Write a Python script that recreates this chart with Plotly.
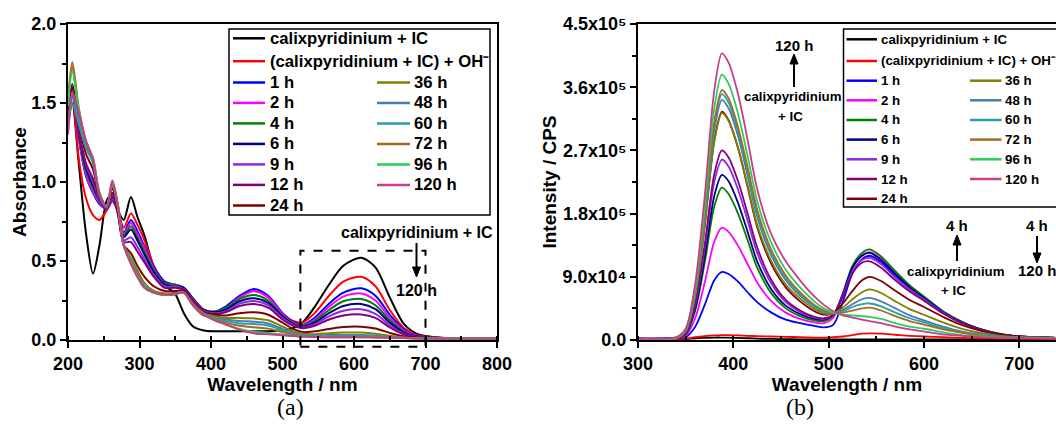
import plotly.graph_objects as go

# ---------------- DATA ----------------
series_labels = ["calixpyridinium + IC", "(calixpyridinium + IC) + OH\u207b",
                 "1 h", "2 h", "4 h", "6 h", "9 h", "12 h", "24 h",
                 "36 h", "48 h", "60 h", "72 h", "96 h", "120 h"]
series_colors = ["#000000", "#ff0000", "#0000ff", "#ff00ff", "#008000", "#000080",
                 "#8a2be2", "#800080", "#800000", "#808000", "#4a7bb5", "#2a9fa8",
                 "#a66a23", "#2ecc5a", "#c83d8a"]

# (a) UV-vis absorbance
wl_a = [200, 206, 215, 225, 235, 244, 254, 262, 270, 278, 288, 297, 307, 320, 335, 350, 362, 375, 390, 405,
        420, 440, 460, 480, 500, 515, 528, 545, 565, 585, 610, 630, 650, 670, 690, 720, 760, 800]
abs_black = [1.35, 1.50, 1.12, 0.68, 0.42, 0.60, 0.88, 0.93, 0.82, 0.76, 0.905, 0.78, 0.66, 0.46, 0.35, 0.29, 0.17, 0.085, 0.06, 0.055,
             0.055, 0.055, 0.055, 0.056, 0.062, 0.075, 0.11, 0.21, 0.35, 0.47, 0.52, 0.46, 0.27, 0.10, 0.035, 0.015, 0.012, 0.01]
abs_oh = [1.38, 1.55, 1.15, 0.90, 0.79, 0.76, 0.82, 0.88, 0.81, 0.71, 0.80, 0.73, 0.63, 0.47, 0.37, 0.34, 0.31, 0.22, 0.155, 0.16,
          0.20, 0.27, 0.31, 0.27, 0.17, 0.12, 0.11, 0.17, 0.28, 0.37, 0.40, 0.34, 0.19, 0.075, 0.028, 0.015, 0.012, 0.01]
abs_1h = [1.42, 1.60, 1.28, 1.04, 0.93, 0.86, 0.83, 0.88, 0.82, 0.68, 0.76, 0.69, 0.59, 0.46, 0.37, 0.35, 0.33, 0.26, 0.19, 0.18,
          0.21, 0.28, 0.323, 0.28, 0.17, 0.115, 0.095, 0.14, 0.23, 0.30, 0.327, 0.28, 0.16, 0.065, 0.025, 0.014, 0.011, 0.01]
abs_2h = [1.40, 1.58, 1.28, 1.05, 0.94, 0.87, 0.83, 0.89, 0.82, 0.67, 0.74, 0.67, 0.58, 0.45, 0.36, 0.35, 0.33, 0.26, 0.19, 0.18,
          0.20, 0.27, 0.31, 0.27, 0.165, 0.11, 0.092, 0.13, 0.21, 0.275, 0.295, 0.25, 0.14, 0.06, 0.024, 0.014, 0.011, 0.01]
abs_4h = [1.42, 1.60, 1.30, 1.07, 0.96, 0.88, 0.83, 0.90, 0.82, 0.66, 0.72, 0.65, 0.56, 0.44, 0.36, 0.35, 0.33, 0.26, 0.19, 0.18,
          0.20, 0.26, 0.285, 0.25, 0.155, 0.105, 0.09, 0.12, 0.19, 0.245, 0.26, 0.22, 0.125, 0.052, 0.022, 0.013, 0.011, 0.01]
abs_6h = [1.45, 1.60, 1.31, 1.09, 0.98, 0.89, 0.83, 0.91, 0.81, 0.65, 0.70, 0.63, 0.54, 0.43, 0.35, 0.34, 0.33, 0.26, 0.19, 0.175,
          0.19, 0.245, 0.264, 0.235, 0.15, 0.10, 0.085, 0.11, 0.17, 0.215, 0.228, 0.195, 0.11, 0.047, 0.02, 0.012, 0.01, 0.01]
abs_9h = [1.40, 1.57, 1.32, 1.11, 1.00, 0.89, 0.83, 0.92, 0.80, 0.63, 0.65, 0.59, 0.51, 0.41, 0.34, 0.34, 0.32, 0.255, 0.185, 0.17,
          0.18, 0.23, 0.247, 0.22, 0.14, 0.095, 0.08, 0.10, 0.15, 0.185, 0.194, 0.165, 0.095, 0.04, 0.018, 0.012, 0.01, 0.01]
abs_12h = [1.38, 1.55, 1.32, 1.12, 1.02, 0.90, 0.83, 0.93, 0.79, 0.62, 0.62, 0.56, 0.49, 0.40, 0.33, 0.33, 0.32, 0.25, 0.18, 0.165,
           0.175, 0.215, 0.228, 0.205, 0.13, 0.09, 0.075, 0.09, 0.13, 0.155, 0.162, 0.14, 0.08, 0.035, 0.016, 0.011, 0.01, 0.01]
abs_24h = [1.42, 1.62, 1.38, 1.18, 1.08, 0.91, 0.84, 0.96, 0.81, 0.60, 0.55, 0.47, 0.40, 0.34, 0.31, 0.31, 0.31, 0.24, 0.175, 0.16,
           0.155, 0.17, 0.175, 0.16, 0.11, 0.07, 0.05, 0.055, 0.07, 0.082, 0.084, 0.073, 0.045, 0.022, 0.013, 0.01, 0.01, 0.01]
abs_36h = [1.50, 1.73, 1.45, 1.24, 1.13, 0.92, 0.84, 0.98, 0.83, 0.60, 0.52, 0.44, 0.36, 0.31, 0.295, 0.295, 0.30, 0.23, 0.17, 0.15,
           0.14, 0.14, 0.137, 0.125, 0.085, 0.055, 0.04, 0.037, 0.043, 0.047, 0.047, 0.04, 0.027, 0.016, 0.011, 0.01, 0.01, 0.01]
abs_48h = [1.35, 1.55, 1.38, 1.22, 1.12, 0.92, 0.84, 1.00, 0.84, 0.60, 0.50, 0.42, 0.34, 0.30, 0.285, 0.29, 0.30, 0.225, 0.165, 0.14,
           0.13, 0.12, 0.116, 0.105, 0.07, 0.045, 0.033, 0.03, 0.031, 0.032, 0.031, 0.027, 0.02, 0.014, 0.011, 0.01, 0.01, 0.01]
abs_60h = [1.32, 1.50, 1.37, 1.22, 1.12, 0.92, 0.84, 1.00, 0.84, 0.60, 0.50, 0.41, 0.34, 0.30, 0.285, 0.29, 0.30, 0.22, 0.16, 0.135,
           0.12, 0.105, 0.101, 0.092, 0.062, 0.04, 0.03, 0.026, 0.026, 0.026, 0.025, 0.022, 0.017, 0.013, 0.011, 0.01, 0.01, 0.01]
abs_72h = [1.52, 1.76, 1.47, 1.26, 1.15, 0.93, 0.84, 0.99, 0.84, 0.60, 0.49, 0.41, 0.33, 0.30, 0.285, 0.29, 0.30, 0.22, 0.16, 0.13,
           0.11, 0.09, 0.08, 0.072, 0.05, 0.034, 0.026, 0.022, 0.021, 0.021, 0.02, 0.018, 0.015, 0.012, 0.01, 0.01, 0.01, 0.01]
abs_96h = [1.48, 1.70, 1.46, 1.26, 1.15, 0.93, 0.84, 1.00, 0.85, 0.60, 0.49, 0.40, 0.33, 0.30, 0.29, 0.295, 0.30, 0.22, 0.16, 0.125,
           0.10, 0.07, 0.053, 0.045, 0.035, 0.027, 0.022, 0.019, 0.018, 0.018, 0.018, 0.016, 0.014, 0.012, 0.01, 0.01, 0.01, 0.01]
abs_120h = [1.30, 1.57, 1.44, 1.26, 1.14, 0.93, 0.84, 1.01, 0.85, 0.60, 0.48, 0.40, 0.33, 0.30, 0.29, 0.295, 0.30, 0.22, 0.16, 0.125,
            0.10, 0.065, 0.042, 0.036, 0.03, 0.025, 0.022, 0.019, 0.018, 0.017, 0.017, 0.016, 0.014, 0.012, 0.01, 0.01, 0.01, 0.01]

# (b) fluorescence intensity, in thousands of CPS
wl_b = [300, 340, 350, 360, 370, 380, 388, 395, 405, 415, 425, 440, 455, 470, 485, 495, 505, 515, 525, 535,
        543, 555, 570, 585, 600, 620, 640, 660, 680, 700, 740]
fl_black = [1, 1, 1.5, 2.5, 3, 3.5, 3.5, 3.3, 3, 2.5, 2, 1.5, 1.2, 1, 1, 1, 1, 1, 1, 1,
            1, 1, 1, 1, 1, 1, 1, 1, 1, 1, 1]
fl_oh = [1, 1, 2, 4, 5.5, 6.5, 7, 7, 6.5, 6, 5.5, 5, 4.5, 4, 3.5, 3.5, 4, 5, 7, 9,
         9.5, 9, 7.5, 6, 5, 4, 3, 2.5, 2, 2, 1.5]
fl_1h = [2, 3, 4, 19, 50, 85, 97, 94, 83, 68, 54, 39, 29, 24, 20, 18, 22, 55, 95, 115,
         120, 111, 91, 73, 58, 38, 24, 14, 8, 5, 3]
fl_2h = [2, 3, 6, 31, 82, 140, 160, 154, 134, 108, 82, 55, 39, 30, 25, 24, 32, 65, 103, 121,
         125, 116, 95, 76, 60, 40, 25, 15, 8, 5, 3]
fl_4h = [2, 3, 8, 42, 110, 190, 217, 208, 180, 142, 103, 66, 45, 34, 28, 27, 35, 67, 106, 124,
         129, 119, 98, 78, 62, 41, 26, 15, 9, 5, 3]
fl_6h = [2, 3, 9, 45, 118, 205, 235, 226, 195, 154, 112, 72, 49, 37, 30, 29, 36, 66, 103, 120,
         124, 114, 94, 75, 60, 40, 25, 15, 8, 5, 3]
fl_9h = [2, 3, 10, 50, 130, 225, 257, 247, 214, 170, 124, 80, 54, 40, 32, 30, 36, 64, 98, 114,
         117, 108, 89, 72, 58, 39, 24, 14, 8, 5, 3]
fl_12h = [2, 3, 10, 52, 136, 236, 270, 260, 226, 180, 132, 85, 57, 42, 33, 31, 36, 62, 95, 110,
          112, 103, 85, 69, 56, 38, 24, 14, 8, 5, 3]
fl_24h = [2, 3, 12, 62, 163, 284, 325, 313, 273, 218, 161, 108, 75, 55, 41, 36, 38, 52, 70, 85,
          90, 84, 70, 57, 47, 33, 21, 13, 8, 5, 3]
fl_36h = [2, 3, 12, 62, 162, 282, 323, 312, 274, 220, 164, 112, 79, 59, 44, 38, 38, 46, 58, 68,
          72, 67, 55, 44, 36, 25, 16, 10, 6, 4, 3]
fl_48h = [2, 3, 13, 66, 172, 298, 342, 330, 290, 234, 175, 120, 85, 63, 47, 40, 38, 43, 51, 58,
          60, 55, 45, 35, 28, 19, 12, 8, 5, 4, 3]
fl_60h = [2, 3, 14, 68, 176, 305, 350, 338, 297, 240, 180, 123, 88, 65, 48, 41, 38, 41, 47, 51,
          52, 48, 39, 31, 25, 17, 11, 7, 4.5, 3.5, 3]
fl_72h = [2, 3, 14, 70, 180, 310, 356, 344, 303, 246, 186, 128, 92, 68, 50, 42, 38, 39, 42, 45,
          46, 42, 34, 27, 22, 15, 10, 6, 4, 3, 2.5]
fl_96h = [2, 3, 15, 74, 190, 330, 378, 365, 322, 262, 198, 138, 100, 75, 55, 45, 39, 36, 35, 34,
          33, 30, 24, 19, 16, 11, 7, 5, 3.5, 3, 2.5]
fl_120h = [2, 4, 16, 80, 205, 355, 408, 395, 350, 285, 215, 150, 112, 85, 62, 50, 41, 35, 32, 29,
           27, 24, 19, 15, 12, 8, 6, 4, 3, 2.5, 2]

abs_all = [abs_black, abs_oh, abs_1h, abs_2h, abs_4h, abs_6h, abs_9h, abs_12h, abs_24h,
           abs_36h, abs_48h, abs_60h, abs_72h, abs_96h, abs_120h]
fl_all = [fl_black, fl_oh, fl_1h, fl_2h, fl_4h, fl_6h, fl_9h, fl_12h, fl_24h,
          fl_36h, fl_48h, fl_60h, fl_72h, fl_96h, fl_120h]

b_ytick_vals = [0, 90000, 180000, 270000, 360000, 450000]
b_ytick_text = ["0.0", "9.0x10\u2074", "1.8x10\u2075", "2.7x10\u2075", "3.6x10\u2075", "4.5x10\u2075"]

# ---------------- FIGURE ----------------
W, H = 1056, 443
SANS = "Liberation Sans, Arial, sans-serif"
SERIF = "Liberation Serif, Times New Roman, serif"


def P(x):
    return x / W


def Q(y):
    return 1 - y / H


fig = go.Figure()
for lab, col, ys in zip(series_labels, series_colors, abs_all):
    fig.add_trace(go.Scatter(x=wl_a, y=ys, mode="lines", name=lab, showlegend=False,
                             line=dict(color=col, width=2, shape="spline", smoothing=0.8),
                             xaxis="x", yaxis="y"))
for lab, col, ys in zip(series_labels, series_colors, fl_all):
    fig.add_trace(go.Scatter(x=wl_b, y=[v * 1000 for v in ys], mode="lines", name=lab, showlegend=False,
                             line=dict(color=col, width=1.8, shape="spline", smoothing=0.8),
                             xaxis="x2", yaxis="y2"))

tickfont = dict(family=SANS, size=18, color="black", weight="bold")
titlefont = dict(family=SANS, size=19, color="black", weight="bold")
ydom = [Q(340), Q(24)]
common = dict(showline=True, linewidth=2, linecolor="black", showgrid=False, zeroline=False,
              tickfont=tickfont, tickwidth=2, tickcolor="black", ticklen=6)

fig.update_layout(
    width=W, height=H, margin=dict(l=0, r=0, t=0, b=0, autoexpand=False),
    paper_bgcolor="white", plot_bgcolor="white", showlegend=False,
    xaxis=dict(domain=[P(68), P(497)], range=[200, 800], anchor="y", mirror=True,
               tickmode="linear", tick0=200, dtick=100, ticks="outside",
               minor=dict(tickmode="linear", tick0=200, dtick=50, ticks="inside", ticklen=4,
                          tickwidth=2, tickcolor="black"),
               title=dict(text="Wavelength / nm", font=titlefont, standoff=0), **common),
    yaxis=dict(domain=ydom, range=[0, 2], anchor="x", mirror=True,
               tickmode="linear", tick0=0, dtick=0.5, tickformat=".1f", ticks="outside",
               minor=dict(tickmode="linear", tick0=0, dtick=0.25, ticks="outside", ticklen=4,
                          tickwidth=2, tickcolor="black"),
               title=dict(text="Absorbance", font=titlefont, standoff=0), **common),
    xaxis2=dict(domain=[P(638), 1.0], range=[300, 738.5], anchor="y2", mirror=True,
                tickmode="linear", tick0=300, dtick=100, ticks="outside",
                minor=dict(tickmode="linear", tick0=300, dtick=50, ticks="inside", ticklen=4,
                           tickwidth=2, tickcolor="black"),
                title=dict(text="Wavelength / nm", font=titlefont, standoff=0), **common),
    yaxis2=dict(domain=ydom, range=[0, 450000], anchor="x2", mirror=False,
                tickmode="array", tickvals=b_ytick_vals, ticktext=b_ytick_text, ticks="outside",
                minor=dict(tickmode="linear", tick0=0, dtick=45000, ticks="outside", ticklen=4,
                           tickwidth=2, tickcolor="black"),
                title=dict(text="Intensity / CPS", font=titlefont, standoff=1), **common),
)

shapes = []
annos = []


def txt(x, y, s, size, xanchor="center", family=SANS, bold=True):
    f = dict(family=family, size=size, color="black")
    if bold:
        f["weight"] = "bold"
    annos.append(dict(x=P(x), y=Q(y), xref="paper", yref="paper", text=s, showarrow=False,
                      xanchor=xanchor, yanchor="middle", font=f))


def arrow(x, y_tail, y_tip, head_len=10, half_w=4):
    d = 1 if y_tip > y_tail else -1
    base = y_tip - d * head_len
    shapes.append(dict(type="line", xref="paper", yref="paper", x0=P(x), x1=P(x),
                       y0=Q(y_tail), y1=Q(base), line=dict(color="black", width=2)))
    path = "M %f,%f L %f,%f L %f,%f Z" % (P(x), Q(y_tip), P(x - half_w), Q(base), P(x + half_w), Q(base))
    shapes.append(dict(type="path", xref="paper", yref="paper", path=path,
                       fillcolor="black", line=dict(color="black", width=1)))


def legend(box, rows, left_idx, right_idx, right_row0, lx, rx, size):
    x0, y0, x1, y1 = box
    shapes.append(dict(type="rect", xref="paper", yref="paper", x0=P(x0), x1=P(x1), y0=Q(y1), y1=Q(y0),
                       line=dict(color="black", width=1.5)))
    for r, i in enumerate(left_idx):
        shapes.append(dict(type="line", xref="paper", yref="paper", x0=P(lx[0]), x1=P(lx[1]),
                           y0=Q(rows[r]), y1=Q(rows[r]), line=dict(color=series_colors[i], width=2.5)))
        txt(lx[2], rows[r], series_labels[i], size, xanchor="left")
    for r, i in enumerate(right_idx):
        yy = rows[right_row0 + r]
        shapes.append(dict(type="line", xref="paper", yref="paper", x0=P(rx[0]), x1=P(rx[1]),
                           y0=Q(yy), y1=Q(yy), line=dict(color=series_colors[i], width=2.5)))
        txt(rx[2], yy, series_labels[i], size, xanchor="left")


# legend (a)
legend((229, 29, 490, 215), [38.3, 61.2, 82.5, 102.9, 123.4, 143.9, 164.4, 184.9, 205.5],
       list(range(9)), list(range(9, 15)), 2, (233, 265, 268), (377, 410, 412), 16.7)
# legend (b)
legend((843.5, 29, 1075, 207), [39.3, 61, 80.7, 100.3, 120, 139.6, 159.3, 179, 198.8],
       list(range(9)), list(range(9, 15)), 2, (846.5, 877, 878.5), (970, 1001.5, 1002.5), 13.3)

# panel (a) annotations
txt(417, 233, "calixpyridinium + IC", 16)
arrow(416.5, 243, 277)
txt(416, 290, "120 h", 16)
# dashed zoom box, defined in data units of panel (a)
box_nm = (525, 700)
box_abs = (-0.042, 0.565)
shapes.append(dict(type="rect", xref="x domain", yref="y domain",
                   x0=(box_nm[0] - 200) / 600, x1=(box_nm[1] - 200) / 600,
                   y0=box_abs[0] / 2, y1=box_abs[1] / 2,
                   line=dict(color="black", width=2, dash="dash")))

# panel (b) annotations
txt(794, 45, "120 h", 15)
arrow(794, 87, 54)
txt(793, 97, "calixpyridinium", 13.3)
txt(790, 116, "+ IC", 13.3)
txt(957, 226, "4 h", 15)
arrow(957, 261, 235)
txt(956, 271, "calixpyridinium", 13.3)
txt(953, 290, "+ IC", 13.3)
txt(1037, 226, "4 h", 15)
arrow(1037, 236, 263)
txt(1037, 270, "120 h", 15)

# captions
txt(290, 407, "(a)", 24, family=SERIF, bold=False)
txt(800, 407, "(b)", 24, family=SERIF, bold=False)

fig.update_layout(shapes=shapes, annotations=annos)
fig.write_html("out.html")
